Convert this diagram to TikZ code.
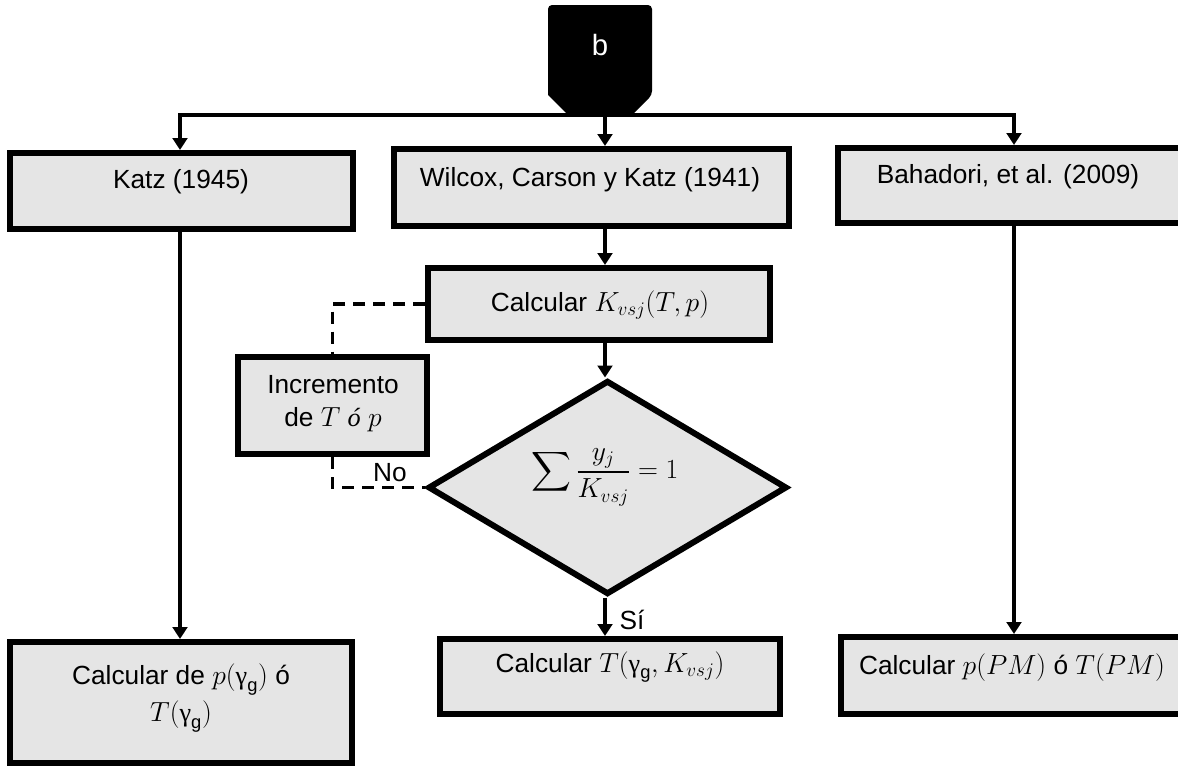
\documentclass[tikz,border=0pt]{standalone}
\usepackage{amsmath}
\usepackage{fontspec}
\setmainfont{Liberation Sans}
\newfontfamily\grfont{Liberation Serif}
\usetikzlibrary{arrows.meta,shapes.geometric}
\definecolor{boxgray}{RGB}{229,229,229}
\newcommand{\ug}{\mbox{\grfont γ}}
\begin{document}
\begin{tikzpicture}[x=0.75pt,y=-0.75pt,
  box/.style={draw=black,fill=boxgray,line width=4.5pt,rectangle,inner sep=0pt},
  txt/.style={inner sep=0pt,font=\fontsize{19.7}{24}\selectfont,align=center},
  arr/.style={line width=2.8pt,-{Triangle[width=11pt,length=9pt]}},
  conn/.style={line width=2.8pt,line cap=rect},
  dashconn/.style={line width=2.8pt,dash pattern=on 9pt off 6pt}]
\useasboundingbox (0,0) rectangle (1178,768);
\clip (0,0) rectangle (1178,768);
\fill[white] (0,0) rectangle (1178,768);

% top connector shape
\fill (548,95) [rounded corners=3pt] -- (548,5) -- (652,5) -- (652,95) [sharp corners] -- (632,115) -- (568,115) -- cycle;
\node[txt,text=white,font=\fontsize{22}{26}\selectfont] (b) at (600,45) {b};

% boxes
\node[box,minimum width=257.25pt,minimum height=57pt] (katz) at (181.5,191) {};
\node[txt] (katzt) at (181,182) {Katz (1945)};
\node[box,minimum width=296.25pt,minimum height=57.75pt] (wil) at (591.5,187.5) {};
\node[txt] (wilt) at (590,180) {Wilcox, Carson y Katz (1941)};
\node[box,minimum width=265.5pt,minimum height=56.25pt] (bah) at (1015,185.5) {};
\node[txt] (baht) at (1008,177) {Bahadori, et al. (2009)};
\node[box,minimum width=256.5pt,minimum height=54pt] (kbox) at (599,304) {};
\node[txt] (kboxt) at (600,305) {Calcular $K_{vsj}(T,p)$};
\node[box,minimum width=141.75pt,minimum height=72.75pt] (inc) at (332.5,405.5) {};
\node[txt,font=\fontsize{19.7}{24.75}\selectfont] (inct) at (333,404) {Incremento\\de $T$ {\grfont\itshape ó} $p$};
\node[diamond,draw=black,fill=boxgray,line width=4.5pt,inner sep=0pt,minimum width=269.25pt,minimum height=160.5pt] (dia) at (607.5,487.5) {};
\node[txt] (diat) at (605,477) {$\displaystyle\sum\frac{y_j}{K_{vsj}}=1$};
\node[box,minimum width=255pt,minimum height=56.25pt] (ct) at (610,676.5) {};
\node[txt] (ctt) at (610,667) {Calcular $T(\ug_{\mathrm{g}},K_{vsj})$};
\node[box,minimum width=256.5pt,minimum height=90.75pt] (kb2) at (181,702.5) {};
\node[txt,font=\fontsize{19.7}{27.75}\selectfont] (kb2t) at (181,698) {Calcular de $p(\ug_{\mathrm{g}})$ ó\\$T(\ug_{\mathrm{g}})$};
\node[box,minimum width=259.5pt,minimum height=57.75pt] (bb2) at (1014,675.5) {};
\node[txt] (bb2t) at (1012,668) {Calcular $p(PM)$ ó $T(PM)$};

% connectors
\coordinate (bl) at (180,115);
\coordinate (br) at (1014,115);
\coordinate (mx) at (605,115);
\draw[conn] (bl) -- (br);
\draw[arr] (bl) -- (bl |- katz.north);
\draw[arr] (mx) -- (mx |- wil.north);
\draw[arr] (br) -- (br |- bah.north);
\draw[arr] (wil.south -| mx) -- (kbox.north -| mx);
\draw[arr] (kbox.south -| mx) -- (dia.north -| mx);
\draw[arr] (dia.south -| mx) -- (ct.north -| mx);
\draw[arr] (katz.south -| bl) -- (kb2.north -| bl);
\draw[arr] (bah.south -| br) -- (bb2.north -| br);
\draw[dashconn] (kbox.west) -| (inc.north);
\draw[dashconn] (inc.south) |- (dia.west);
\node[txt] (no) at (390,473) {No};
\node[txt] (si) at (632,620) {Sí};
\end{tikzpicture}
\end{document}
